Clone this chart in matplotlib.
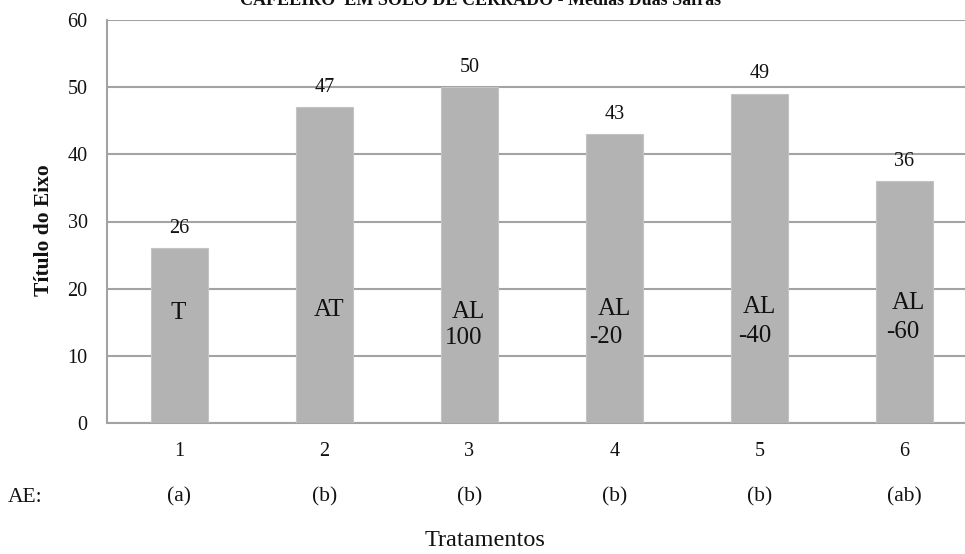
import matplotlib
matplotlib.use("Agg")
import matplotlib.pyplot as plt

# Data
tratamentos = ["1", "2", "3", "4", "5", "6"]
valores = [26, 47, 50, 43, 49, 36]
grupos_ae = ["(a)", "(b)", "(b)", "(b)", "(b)", "(ab)"]
rotulos_sup = ["T", "AT", "AL", "AL", "AL", "AL"]
rotulos_inf = ["", "", "100", "-20", "-40", "-60"]
y_ticks = [0, 10, 20, 30, 40, 50, 60]

plt.rcParams["font.family"] = ["Liberation Serif", "DejaVu Serif"]

W, H = 965, 554
fig = plt.figure(figsize=(W / 100, H / 100), dpi=100)
ax = fig.add_axes([107 / W, 1 - 423 / H, 870 / W, 403 / H])

x = list(range(len(tratamentos)))
bar_color = "#b3b3b3"
grid_color = "#a3a3a3"
txt = "#111111"

ax.bar(x, valores, width=0.393, color=bar_color, edgecolor="#c4c4c4", linewidth=0.8, zorder=3)
ax.set_xlim(-0.5, len(tratamentos) - 0.5)
ax.set_ylim(0, 60)
ax.set_yticks(y_ticks)
ax.set_yticklabels([str(v) for v in y_ticks], fontsize=14.5)
ax.set_xticks(x)
ax.set_xticklabels(tratamentos, fontsize=14.5)
ax.tick_params(axis="both", length=0, colors=txt)
ax.tick_params(axis="x", pad=14)
ax.tick_params(axis="y", pad=14)
ax.yaxis.grid(True, color=grid_color, linewidth=1.5, zorder=0)
for side in ["top", "right"]:
    ax.spines[side].set_visible(False)
for side in ["left", "bottom"]:
    ax.spines[side].set_color(grid_color)
    ax.spines[side].set_linewidth(1.5)

# Value labels above bars
for xi, v in zip(x, valores):
    ax.annotate(str(v), (xi, v), xytext=(0, 14.5), textcoords="offset points",
                ha="center", va="center", fontsize=14.5, color=txt)

# Treatment labels inside bars
sup_pos = [(-0.01, 16.4), (0.03, 16.8), (-0.01, 16.5), (0.0, 17.0), (0.0, 17.3), (0.03, 17.8)]
inf_pos = [None, None, (-0.04, 12.6), (-0.06, 12.8), (-0.03, 13.0), (-0.01, 13.6)]
for xi, s, i, ps, pi in zip(x, rotulos_sup, rotulos_inf, sup_pos, inf_pos):
    ax.text(xi + ps[0], ps[1], s, ha="center", va="center", fontsize=18, color=txt, zorder=4)
    if i:
        ax.text(xi + pi[0], pi[1], i, ha="center", va="center", fontsize=18, color=txt, zorder=4)

# AE significance row
ae_y = 1 - 497 / H
fig.text(8 / W, ae_y, "AE:", ha="left", va="center", fontsize=15.5, color=txt)
for xi, g in zip(x, grupos_ae):
    xf = (107 + (xi + 0.5) * 145) / W
    fig.text(xf, ae_y, g, ha="center", va="center", fontsize=15.5, color=txt)

fig.text(485 / W, 1 - 541 / H, "Tratamentos", ha="center", va="center", fontsize=17.5, color=txt)
fig.text(44 / W, 1 - 230 / H, "Título do Eixo", ha="center", va="center", rotation=90,
         fontsize=15.5, fontweight="bold", color=txt)

fig.text(481 / W, 1 - 5 / H, "CAFEEIRO  EM SOLO DE CERRADO - Médias Duas Safras",
         ha="center", va="baseline", fontsize=13, fontweight="bold", color=txt)

fig.savefig("out.png", dpi=100)
